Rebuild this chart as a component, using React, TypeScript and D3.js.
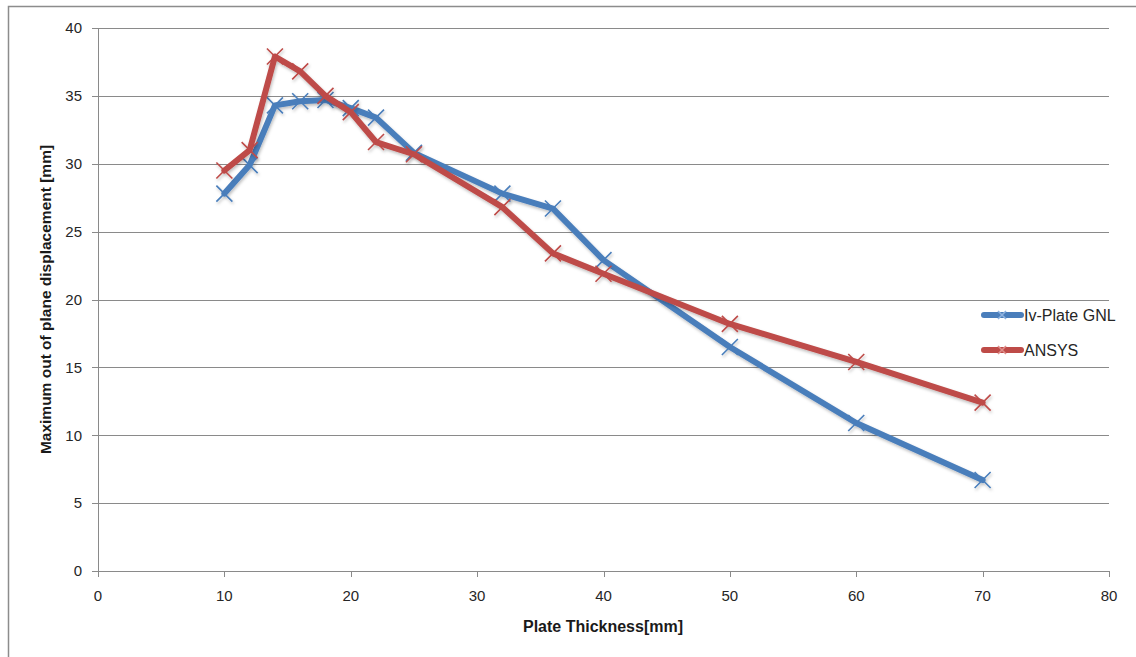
import React from "react";
import * as d3 from "d3";

const thickness = [10, 12, 14, 16, 18, 20, 22, 25, 32, 36, 40, 50, 60, 70];
const ivPlate = [27.8, 29.9, 34.3, 34.6, 34.7, 34.1, 33.4, 30.8, 27.8, 26.7, 22.9, 16.5, 10.9, 6.7];
const ansys = [29.5, 31.0, 37.9, 36.8, 35.0, 33.8, 31.6, 30.7, 26.8, 23.4, 21.9, 18.2, 15.4, 12.4];
const xTicks = [0, 10, 20, 30, 40, 50, 60, 70, 80];
const yTicks = [0, 5, 10, 15, 20, 25, 30, 35, 40];
const seriesNames = ["Iv-Plate GNL", "ANSYS"];
const seriesColors = ["#4a7ebb", "#be4b48"];

const W = 1136;
const H = 657;
const FONT = "'Liberation Sans', Arial, sans-serif";

export default function App() {
  const x = d3.scaleLinear().domain([0, 80]).range([98, 1109]);
  const y = d3.scaleLinear().domain([0, 40]).range([571, 28]);
  const line = d3
    .line<[number, number]>()
    .x((d) => x(d[0]))
    .y((d) => y(d[1]));

  const series = [ivPlate, ansys].map((vals, i) => ({
    name: seriesNames[i],
    color: seriesColors[i],
    pts: thickness.map((t, j) => [t, vals[j]] as [number, number]),
  }));

  const cross = (cx: number, cy: number, r: number, color: string, key: string) => (
    <path
      key={key}
      d={`M${cx - r},${cy - r}L${cx + r},${cy + r}M${cx - r},${cy + r}L${cx + r},${cy - r}`}
      stroke={color}
      strokeWidth={1.6}
      fill="none"
    />
  );

  return (
    <svg
      width={W}
      height={H}
      style={{ position: "absolute", left: 0, top: 0, background: "#fff" }}
      fontFamily={FONT}
    >
      <defs>
        <filter id="shadow" x="-10%" y="-10%" width="120%" height="120%">
          <feDropShadow dx="1" dy="2" stdDeviation="1.5" floodColor="#000" floodOpacity="0.25" />
        </filter>
      </defs>
      {/* frame */}
      <path d={`M8.5,${H}V6.5H${W}`} stroke="#8c8c8c" strokeWidth={1.5} fill="none" />

      {/* gridlines */}
      {yTicks.map((t) => (
        <line key={"g" + t} x1={x(0)} x2={x(80)} y1={Math.round(y(t)) + 0.5} y2={Math.round(y(t)) + 0.5} stroke="#8a8a8a" strokeWidth={1} />
      ))}
      {/* y axis */}
      <line x1={Math.round(x(0)) + 0.5} x2={Math.round(x(0)) + 0.5} y1={y(40)} y2={y(0)} stroke="#8a8a8a" />
      {yTicks.map((t) => (
        <g key={"yt" + t}>
          <line x1={x(0) - 6} x2={x(0)} y1={Math.round(y(t)) + 0.5} y2={Math.round(y(t)) + 0.5} stroke="#8a8a8a" />
          <text x={82} y={y(t)} dy="0.35em" textAnchor="end" fontSize={15} fill="#262626">
            {t}
          </text>
        </g>
      ))}
      {/* x ticks */}
      {xTicks.map((t) => (
        <g key={"xt" + t}>
          <line x1={Math.round(x(t)) + 0.5} x2={Math.round(x(t)) + 0.5} y1={y(0)} y2={y(0) + 6} stroke="#8a8a8a" />
          <text x={x(t)} y={596} dy="0.35em" textAnchor="middle" fontSize={15} fill="#262626">
            {t}
          </text>
        </g>
      ))}

      {/* series */}
      {series.map((s) => (
        <g key={s.name} filter="url(#shadow)">
          <path d={line(s.pts) || ""} stroke={s.color} strokeWidth={6} fill="none" strokeLinejoin="round" strokeLinecap="round" />
          {s.pts.map((p, j) => cross(x(p[0]), y(p[1]), 8, s.color, s.name + j))}
        </g>
      ))}

      {/* legend */}
      {series.map((s, i) => {
        const ly = 315 + i * 35;
        return (
          <g key={"lg" + s.name}>
            <line x1={984} x2={1021} y1={ly} y2={ly} stroke={s.color} strokeWidth={6} strokeLinecap="round" />
            {cross(1002, ly, 4, s.color === seriesColors[0] ? "#8fb3e0" : "#e08f8c", "lm" + i)}
            <text x={1024} y={ly} dy="0.35em" fontSize={16} fill="#262626">
              {s.name}
            </text>
          </g>
        );
      })}

      {/* axis titles */}
      <text x={603} y={626} dy="0.35em" textAnchor="middle" fontSize={16} fontWeight="bold" fill="#1a1a1a">
        Plate Thickness[mm]
      </text>
      <text
        transform={`translate(46,${(y(0) + y(40)) / 2}) rotate(-90)`}
        textAnchor="middle"
        dy="0.35em"
        fontSize={15.5}
        fontWeight="bold"
        fill="#1a1a1a"
      >
        Maximum out of plane displacement [mm]
      </text>
    </svg>
  );
}
